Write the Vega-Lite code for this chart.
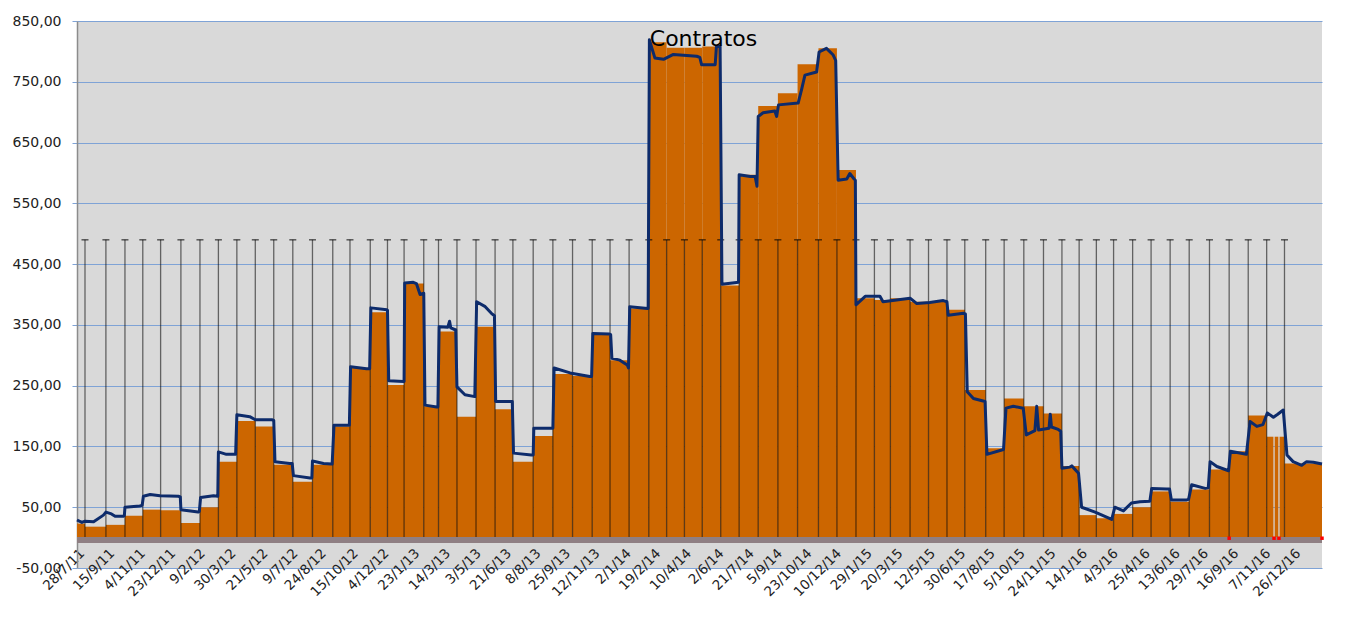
{
  "$schema": "https://vega.github.io/schema/vega-lite/v6.json",
  "width": 1245,
  "height": 547,
  "autosize": {"type": "none"},
  "padding": {"left": 77, "top": 21, "right": 29, "bottom": 58},
  "background": "white",
  "title": {"text": "Contratos", "anchor": "middle", "frame": "group", "orient": "top", "offset": -54, "baseline": "alphabetic", "fontSize": 22, "font": "DejaVu Sans", "fontWeight": "normal", "color": "#000000", "dx": 4},
  "config": {"view": {"fill": "#d9d9d9", "stroke": null}, "font": "DejaVu Sans", "axisX": {"labelOverlap": false}},
  "datasets": {
    "bars": [
      {"date": "2011-07-28", "end": "2011-08-10", "v": 23},
      {"date": "2011-08-10", "end": "2011-09-13", "v": 18},
      {"date": "2011-09-13", "end": "2011-10-14", "v": 21},
      {"date": "2011-10-14", "end": "2011-11-12", "v": 36},
      {"date": "2011-11-12", "end": "2011-12-11", "v": 46},
      {"date": "2011-12-11", "end": "2012-01-13", "v": 45},
      {"date": "2012-01-13", "end": "2012-02-13", "v": 24},
      {"date": "2012-02-13", "end": "2012-03-14", "v": 50},
      {"date": "2012-03-14", "end": "2012-04-13", "v": 125},
      {"date": "2012-04-13", "end": "2012-05-13", "v": 192},
      {"date": "2012-05-13", "end": "2012-06-12", "v": 183},
      {"date": "2012-06-12", "end": "2012-07-13", "v": 120},
      {"date": "2012-07-13", "end": "2012-08-14", "v": 92},
      {"date": "2012-08-14", "end": "2012-09-16", "v": 120},
      {"date": "2012-09-16", "end": "2012-10-14", "v": 183},
      {"date": "2012-10-14", "end": "2012-11-16", "v": 279},
      {"date": "2012-11-16", "end": "2012-12-14", "v": 371},
      {"date": "2012-12-14", "end": "2013-01-10", "v": 251},
      {"date": "2013-01-10", "end": "2013-02-11", "v": 418},
      {"date": "2013-02-11", "end": "2013-03-07", "v": 216},
      {"date": "2013-03-07", "end": "2013-04-06", "v": 339},
      {"date": "2013-04-06", "end": "2013-05-07", "v": 199},
      {"date": "2013-05-07", "end": "2013-06-07", "v": 347},
      {"date": "2013-06-07", "end": "2013-07-06", "v": 211},
      {"date": "2013-07-06", "end": "2013-08-08", "v": 125},
      {"date": "2013-08-08", "end": "2013-09-09", "v": 167},
      {"date": "2013-09-09", "end": "2013-10-11", "v": 269},
      {"date": "2013-10-11", "end": "2013-11-12", "v": 266},
      {"date": "2013-11-12", "end": "2013-12-11", "v": 334},
      {"date": "2013-12-11", "end": "2014-01-11", "v": 292},
      {"date": "2014-01-11", "end": "2014-02-12", "v": 377},
      {"date": "2014-02-12", "end": "2014-03-13", "v": 815},
      {"date": "2014-03-13", "end": "2014-04-11", "v": 806},
      {"date": "2014-04-11", "end": "2014-05-10", "v": 806},
      {"date": "2014-05-10", "end": "2014-06-09", "v": 808},
      {"date": "2014-06-09", "end": "2014-07-09", "v": 415},
      {"date": "2014-07-09", "end": "2014-08-09", "v": 597},
      {"date": "2014-08-09", "end": "2014-09-10", "v": 710},
      {"date": "2014-09-10", "end": "2014-10-12", "v": 731},
      {"date": "2014-10-12", "end": "2014-11-15", "v": 779},
      {"date": "2014-11-15", "end": "2014-12-15", "v": 805},
      {"date": "2014-12-15", "end": "2015-01-15", "v": 605},
      {"date": "2015-01-15", "end": "2015-02-14", "v": 394},
      {"date": "2015-02-14", "end": "2015-03-12", "v": 391},
      {"date": "2015-03-12", "end": "2015-04-13", "v": 394},
      {"date": "2015-04-13", "end": "2015-05-13", "v": 388},
      {"date": "2015-05-13", "end": "2015-06-12", "v": 388},
      {"date": "2015-06-12", "end": "2015-07-11", "v": 375},
      {"date": "2015-07-11", "end": "2015-08-14", "v": 243},
      {"date": "2015-08-14", "end": "2015-09-13", "v": 147},
      {"date": "2015-09-13", "end": "2015-10-15", "v": 229},
      {"date": "2015-10-15", "end": "2015-11-16", "v": 216},
      {"date": "2015-11-16", "end": "2015-12-16", "v": 204},
      {"date": "2015-12-16", "end": "2016-01-13", "v": 118},
      {"date": "2016-01-13", "end": "2016-02-10", "v": 37},
      {"date": "2016-02-10", "end": "2016-03-09", "v": 32},
      {"date": "2016-03-09", "end": "2016-04-09", "v": 39},
      {"date": "2016-04-09", "end": "2016-05-09", "v": 50},
      {"date": "2016-05-09", "end": "2016-06-09", "v": 76},
      {"date": "2016-06-09", "end": "2016-07-10", "v": 59},
      {"date": "2016-07-10", "end": "2016-08-12", "v": 79},
      {"date": "2016-08-12", "end": "2016-09-13", "v": 112},
      {"date": "2016-09-13", "end": "2016-10-14", "v": 142},
      {"date": "2016-10-14", "end": "2016-11-13", "v": 201},
      {"date": "2016-11-13", "end": "2016-11-24", "v": 166},
      {"date": "2016-11-26", "end": "2016-12-02", "v": 166},
      {"date": "2016-12-04", "end": "2016-12-12", "v": 166},
      {"date": "2016-12-12", "end": "2017-02-11", "v": 122}
    ],
    "months": [
      {"date": "2011-08-10"}, {"date": "2011-09-13"}, {"date": "2011-10-14"}, {"date": "2011-11-12"}, {"date": "2011-12-11"},
      {"date": "2012-01-13"}, {"date": "2012-02-13"}, {"date": "2012-03-14"}, {"date": "2012-04-13"}, {"date": "2012-05-13"},
      {"date": "2012-06-12"}, {"date": "2012-07-13"}, {"date": "2012-08-14"}, {"date": "2012-09-16"}, {"date": "2012-10-14"},
      {"date": "2012-11-16"}, {"date": "2012-12-14"}, {"date": "2013-01-10"}, {"date": "2013-02-11"}, {"date": "2013-03-07"},
      {"date": "2013-04-06"}, {"date": "2013-05-07"}, {"date": "2013-06-07"}, {"date": "2013-07-06"}, {"date": "2013-08-08"},
      {"date": "2013-09-09"}, {"date": "2013-10-11"}, {"date": "2013-11-12"}, {"date": "2013-12-11"}, {"date": "2014-01-11"},
      {"date": "2014-02-12"}, {"date": "2014-03-13"}, {"date": "2014-04-11"}, {"date": "2014-05-10"}, {"date": "2014-06-09"},
      {"date": "2014-07-09"}, {"date": "2014-08-09"}, {"date": "2014-09-10"}, {"date": "2014-10-12"}, {"date": "2014-11-15"},
      {"date": "2014-12-15"}, {"date": "2015-01-15"}, {"date": "2015-02-14"}, {"date": "2015-03-12"}, {"date": "2015-04-13"},
      {"date": "2015-05-13"}, {"date": "2015-06-12"}, {"date": "2015-07-11"}, {"date": "2015-08-14"}, {"date": "2015-09-13"},
      {"date": "2015-10-15"}, {"date": "2015-11-16"}, {"date": "2015-12-16"}, {"date": "2016-01-13"}, {"date": "2016-02-10"},
      {"date": "2016-03-09"}, {"date": "2016-04-09"}, {"date": "2016-05-09"}, {"date": "2016-06-09"}, {"date": "2016-07-10"},
      {"date": "2016-08-12"}, {"date": "2016-09-13"}, {"date": "2016-10-14"}, {"date": "2016-11-13"}, {"date": "2016-12-12"}
    ],
    "line": [
      {"date": "2011-07-28", "v": 29}, {"date": "2011-08-05", "v": 25}, {"date": "2011-08-10", "v": 27}, {"date": "2011-08-24", "v": 26},
      {"date": "2011-09-09", "v": 37}, {"date": "2011-09-13", "v": 42}, {"date": "2011-09-22", "v": 39}, {"date": "2011-09-28", "v": 35},
      {"date": "2011-10-11", "v": 35}, {"date": "2011-10-13", "v": 36}, {"date": "2011-10-14", "v": 50}, {"date": "2011-11-07", "v": 52},
      {"date": "2011-11-11", "v": 53}, {"date": "2011-11-13", "v": 68}, {"date": "2011-11-24", "v": 71}, {"date": "2011-12-10", "v": 69},
      {"date": "2012-01-09", "v": 68}, {"date": "2012-01-12", "v": 67}, {"date": "2012-01-13", "v": 46}, {"date": "2012-02-10", "v": 42},
      {"date": "2012-02-12", "v": 43}, {"date": "2012-02-14", "v": 66}, {"date": "2012-03-06", "v": 69}, {"date": "2012-03-13", "v": 68},
      {"date": "2012-03-14", "v": 141}, {"date": "2012-03-27", "v": 137}, {"date": "2012-04-11", "v": 137}, {"date": "2012-04-13", "v": 202},
      {"date": "2012-05-04", "v": 199}, {"date": "2012-05-13", "v": 194}, {"date": "2012-06-09", "v": 194}, {"date": "2012-06-12", "v": 193},
      {"date": "2012-06-14", "v": 125}, {"date": "2012-07-08", "v": 122}, {"date": "2012-07-12", "v": 122}, {"date": "2012-07-14", "v": 102},
      {"date": "2012-08-10", "v": 98}, {"date": "2012-08-13", "v": 98}, {"date": "2012-08-14", "v": 126}, {"date": "2012-09-01", "v": 122},
      {"date": "2012-09-14", "v": 121}, {"date": "2012-09-15", "v": 121}, {"date": "2012-09-18", "v": 185}, {"date": "2012-10-11", "v": 185},
      {"date": "2012-10-13", "v": 185}, {"date": "2012-10-15", "v": 281}, {"date": "2012-11-10", "v": 278}, {"date": "2012-11-15", "v": 278},
      {"date": "2012-11-17", "v": 378}, {"date": "2012-12-13", "v": 375}, {"date": "2012-12-14", "v": 374}, {"date": "2012-12-16", "v": 258},
      {"date": "2013-01-09", "v": 257}, {"date": "2013-01-10", "v": 257}, {"date": "2013-01-11", "v": 419}, {"date": "2013-01-25", "v": 420},
      {"date": "2013-01-30", "v": 418}, {"date": "2013-02-05", "v": 400}, {"date": "2013-02-11", "v": 402}, {"date": "2013-02-13", "v": 218},
      {"date": "2013-03-04", "v": 215}, {"date": "2013-03-06", "v": 215}, {"date": "2013-03-08", "v": 347}, {"date": "2013-03-22", "v": 346},
      {"date": "2013-03-25", "v": 356}, {"date": "2013-03-27", "v": 345}, {"date": "2013-04-03", "v": 342}, {"date": "2013-04-04", "v": 342},
      {"date": "2013-04-06", "v": 248}, {"date": "2013-04-19", "v": 235}, {"date": "2013-05-05", "v": 232}, {"date": "2013-05-08", "v": 388},
      {"date": "2013-05-22", "v": 380}, {"date": "2013-06-01", "v": 369}, {"date": "2013-06-06", "v": 365}, {"date": "2013-06-08", "v": 224},
      {"date": "2013-07-01", "v": 224}, {"date": "2013-07-05", "v": 224}, {"date": "2013-07-07", "v": 139}, {"date": "2013-08-05", "v": 136},
      {"date": "2013-08-08", "v": 136}, {"date": "2013-08-09", "v": 180}, {"date": "2013-09-07", "v": 180}, {"date": "2013-09-09", "v": 180},
      {"date": "2013-09-11", "v": 279}, {"date": "2013-10-07", "v": 271}, {"date": "2013-11-08", "v": 265}, {"date": "2013-11-11", "v": 265},
      {"date": "2013-11-13", "v": 336}, {"date": "2013-12-10", "v": 335}, {"date": "2013-12-12", "v": 334}, {"date": "2013-12-14", "v": 295},
      {"date": "2013-12-27", "v": 292}, {"date": "2014-01-08", "v": 284}, {"date": "2014-01-10", "v": 279}, {"date": "2014-01-12", "v": 380},
      {"date": "2014-02-10", "v": 377}, {"date": "2014-02-11", "v": 377}, {"date": "2014-02-13", "v": 819}, {"date": "2014-02-22", "v": 789},
      {"date": "2014-03-08", "v": 787}, {"date": "2014-03-24", "v": 795}, {"date": "2014-05-01", "v": 792}, {"date": "2014-05-06", "v": 790},
      {"date": "2014-05-09", "v": 778}, {"date": "2014-05-31", "v": 778}, {"date": "2014-06-02", "v": 808}, {"date": "2014-06-08", "v": 808},
      {"date": "2014-06-11", "v": 417}, {"date": "2014-07-08", "v": 420}, {"date": "2014-07-09", "v": 597}, {"date": "2014-07-27", "v": 594},
      {"date": "2014-08-04", "v": 594}, {"date": "2014-08-07", "v": 578}, {"date": "2014-08-09", "v": 693}, {"date": "2014-08-17", "v": 699},
      {"date": "2014-09-05", "v": 702}, {"date": "2014-09-08", "v": 693}, {"date": "2014-09-11", "v": 712}, {"date": "2014-10-13", "v": 715},
      {"date": "2014-10-19", "v": 739}, {"date": "2014-10-24", "v": 761}, {"date": "2014-11-12", "v": 766}, {"date": "2014-11-16", "v": 799},
      {"date": "2014-11-28", "v": 805}, {"date": "2014-12-09", "v": 794}, {"date": "2014-12-13", "v": 785}, {"date": "2014-12-17", "v": 588},
      {"date": "2014-12-31", "v": 590}, {"date": "2015-01-05", "v": 599}, {"date": "2015-01-12", "v": 590}, {"date": "2015-01-14", "v": 588},
      {"date": "2015-01-15", "v": 383}, {"date": "2015-01-30", "v": 397}, {"date": "2015-02-23", "v": 397}, {"date": "2015-02-28", "v": 388},
      {"date": "2015-04-13", "v": 394}, {"date": "2015-04-24", "v": 385}, {"date": "2015-05-15", "v": 387}, {"date": "2015-06-06", "v": 390},
      {"date": "2015-06-12", "v": 388}, {"date": "2015-06-14", "v": 366}, {"date": "2015-07-09", "v": 369}, {"date": "2015-07-12", "v": 368},
      {"date": "2015-07-15", "v": 240}, {"date": "2015-07-25", "v": 229}, {"date": "2015-08-13", "v": 224}, {"date": "2015-08-16", "v": 137},
      {"date": "2015-09-12", "v": 145}, {"date": "2015-09-16", "v": 213}, {"date": "2015-09-28", "v": 216}, {"date": "2015-10-14", "v": 213},
      {"date": "2015-10-19", "v": 169}, {"date": "2015-11-02", "v": 176}, {"date": "2015-11-05", "v": 216}, {"date": "2015-11-08", "v": 177},
      {"date": "2015-11-25", "v": 180}, {"date": "2015-11-27", "v": 203}, {"date": "2015-11-29", "v": 182}, {"date": "2015-12-10", "v": 178},
      {"date": "2015-12-14", "v": 175}, {"date": "2015-12-16", "v": 114}, {"date": "2015-12-29", "v": 116}, {"date": "2016-01-01", "v": 118},
      {"date": "2016-01-12", "v": 106}, {"date": "2016-01-17", "v": 50}, {"date": "2016-02-08", "v": 42}, {"date": "2016-03-06", "v": 30},
      {"date": "2016-03-11", "v": 50}, {"date": "2016-03-25", "v": 44}, {"date": "2016-04-07", "v": 57}, {"date": "2016-04-21", "v": 59},
      {"date": "2016-05-07", "v": 60}, {"date": "2016-05-10", "v": 81}, {"date": "2016-06-03", "v": 80}, {"date": "2016-06-08", "v": 80},
      {"date": "2016-06-11", "v": 62}, {"date": "2016-07-06", "v": 62}, {"date": "2016-07-09", "v": 63}, {"date": "2016-07-14", "v": 87},
      {"date": "2016-08-05", "v": 81}, {"date": "2016-08-10", "v": 82}, {"date": "2016-08-13", "v": 125}, {"date": "2016-08-24", "v": 117},
      {"date": "2016-09-12", "v": 110}, {"date": "2016-09-15", "v": 142}, {"date": "2016-10-11", "v": 137}, {"date": "2016-10-17", "v": 191},
      {"date": "2016-10-28", "v": 183}, {"date": "2016-11-07", "v": 186}, {"date": "2016-11-14", "v": 205}, {"date": "2016-11-24", "v": 198},
      {"date": "2016-12-01", "v": 203}, {"date": "2016-12-10", "v": 210}, {"date": "2016-12-16", "v": 136}, {"date": "2016-12-26", "v": 125},
      {"date": "2017-01-09", "v": 119}, {"date": "2017-01-17", "v": 125}, {"date": "2017-01-28", "v": 124}, {"date": "2017-02-11", "v": 121}
    ],
    "red": [
      {"date": "2016-09-13"}, {"date": "2016-11-25"}, {"date": "2016-12-03"}, {"date": "2017-02-11"}
    ],
    "floor": [{"date": "2011-07-28", "end": "2017-02-11"}]
  },
  "encoding": {
    "x": {
      "field": "date", "type": "temporal",
      "scale": {"type": "utc", "domain": [{"year": 2011, "month": 7, "date": 28, "utc": true}, {"year": 2017, "month": 2, "date": 11, "utc": true}]},
      "axis": {
        "title": null,
        "format": "%-d/%-m/%y",
        "values": [
          {"year": 2011, "month": 7, "date": 28, "utc": true}, {"year": 2011, "month": 9, "date": 15, "utc": true},
          {"year": 2011, "month": 11, "date": 4, "utc": true}, {"year": 2011, "month": 12, "date": 23, "utc": true},
          {"year": 2012, "month": 2, "date": 9, "utc": true}, {"year": 2012, "month": 3, "date": 30, "utc": true},
          {"year": 2012, "month": 5, "date": 21, "utc": true}, {"year": 2012, "month": 7, "date": 9, "utc": true},
          {"year": 2012, "month": 8, "date": 24, "utc": true}, {"year": 2012, "month": 10, "date": 15, "utc": true},
          {"year": 2012, "month": 12, "date": 4, "utc": true}, {"year": 2013, "month": 1, "date": 23, "utc": true},
          {"year": 2013, "month": 3, "date": 14, "utc": true}, {"year": 2013, "month": 5, "date": 3, "utc": true},
          {"year": 2013, "month": 6, "date": 21, "utc": true}, {"year": 2013, "month": 8, "date": 8, "utc": true},
          {"year": 2013, "month": 9, "date": 25, "utc": true}, {"year": 2013, "month": 11, "date": 12, "utc": true},
          {"year": 2014, "month": 1, "date": 2, "utc": true}, {"year": 2014, "month": 2, "date": 19, "utc": true},
          {"year": 2014, "month": 4, "date": 10, "utc": true}, {"year": 2014, "month": 6, "date": 2, "utc": true},
          {"year": 2014, "month": 7, "date": 21, "utc": true}, {"year": 2014, "month": 9, "date": 5, "utc": true},
          {"year": 2014, "month": 10, "date": 23, "utc": true}, {"year": 2014, "month": 12, "date": 10, "utc": true},
          {"year": 2015, "month": 1, "date": 29, "utc": true}, {"year": 2015, "month": 3, "date": 20, "utc": true},
          {"year": 2015, "month": 5, "date": 12, "utc": true}, {"year": 2015, "month": 6, "date": 30, "utc": true},
          {"year": 2015, "month": 8, "date": 17, "utc": true}, {"year": 2015, "month": 10, "date": 5, "utc": true},
          {"year": 2015, "month": 11, "date": 24, "utc": true}, {"year": 2016, "month": 1, "date": 14, "utc": true},
          {"year": 2016, "month": 3, "date": 4, "utc": true}, {"year": 2016, "month": 4, "date": 25, "utc": true},
          {"year": 2016, "month": 6, "date": 13, "utc": true}, {"year": 2016, "month": 7, "date": 29, "utc": true},
          {"year": 2016, "month": 9, "date": 16, "utc": true}, {"year": 2016, "month": 11, "date": 7, "utc": true},
          {"year": 2016, "month": 12, "date": 26, "utc": true}
        ],
        "labelAngle": -45,
        "labelOverlap": false,
        "labelFlush": false,
        "labelBound": false,
        "offset": -26,
        "domain": false,
        "ticks": false,
        "grid": false,
        "labelPadding": 4,
        "labelFont": "DejaVu Sans",
        "labelFontSize": 13.5,
        "labelColor": "#222222"
      }
    }
  },
  "layer": [
    {
      "data": {"name": "bars"},
      "mark": {"type": "rect", "color": "#cc6600"},
      "encoding": {
        "x2": {"field": "end"},
        "y": {
          "field": "v", "type": "quantitative",
          "scale": {"domain": [-50, 850], "nice": false, "zero": false},
          "axis": {
            "title": null,
            "values": [-50, 50, 150, 250, 350, 450, 550, 650, 750, 850],
            "labelExpr": "replace(replace(format(datum.value, '.2f'), '.', ','), '\u2212', '-')",
            "grid": true,
            "gridColor": "#7fa3d6",
            "gridWidth": 1,
            "domain": true,
            "domainColor": "#8c8c8c",
            "domainWidth": 1.5,
            "ticks": true,
            "tickColor": "#7fa3d6",
            "tickSize": 5,
            "labelPadding": 11,
            "labelFont": "DejaVu Sans",
            "labelFontSize": 14,
            "labelColor": "#222222"
          }
        },
        "y2": {"datum": 0}
      }
    },
    {
      "data": {"name": "months"},
      "mark": {"type": "rule", "color": "#000000", "opacity": 0.55, "strokeWidth": 1.3},
      "encoding": {
        "y": {"datum": 0, "type": "quantitative"},
        "y2": {"datum": 490}
      }
    },
    {
      "data": {"name": "months"},
      "mark": {"type": "tick", "orient": "horizontal", "size": 7, "thickness": 1.5, "color": "#000000", "opacity": 0.6},
      "encoding": {
        "y": {"datum": 490, "type": "quantitative"}
      }
    },
    {
      "data": {"name": "floor"},
      "mark": {"type": "rule", "color": "#8f7f83", "strokeWidth": 6},
      "encoding": {
        "x2": {"field": "end"},
        "y": {"datum": -4, "type": "quantitative"}
      }
    },
    {
      "data": {"name": "line"},
      "mark": {"type": "line", "color": "#0d2b6b", "strokeWidth": 3, "strokeJoin": "round"},
      "encoding": {
        "y": {"field": "v", "type": "quantitative", "title": null}
      }
    },
    {
      "data": {"name": "red"},
      "mark": {"type": "point", "shape": "square", "filled": true, "size": 12, "color": "#ff0000", "opacity": 1},
      "encoding": {
        "y": {"datum": -1, "type": "quantitative"}
      }
    }
  ]
}
